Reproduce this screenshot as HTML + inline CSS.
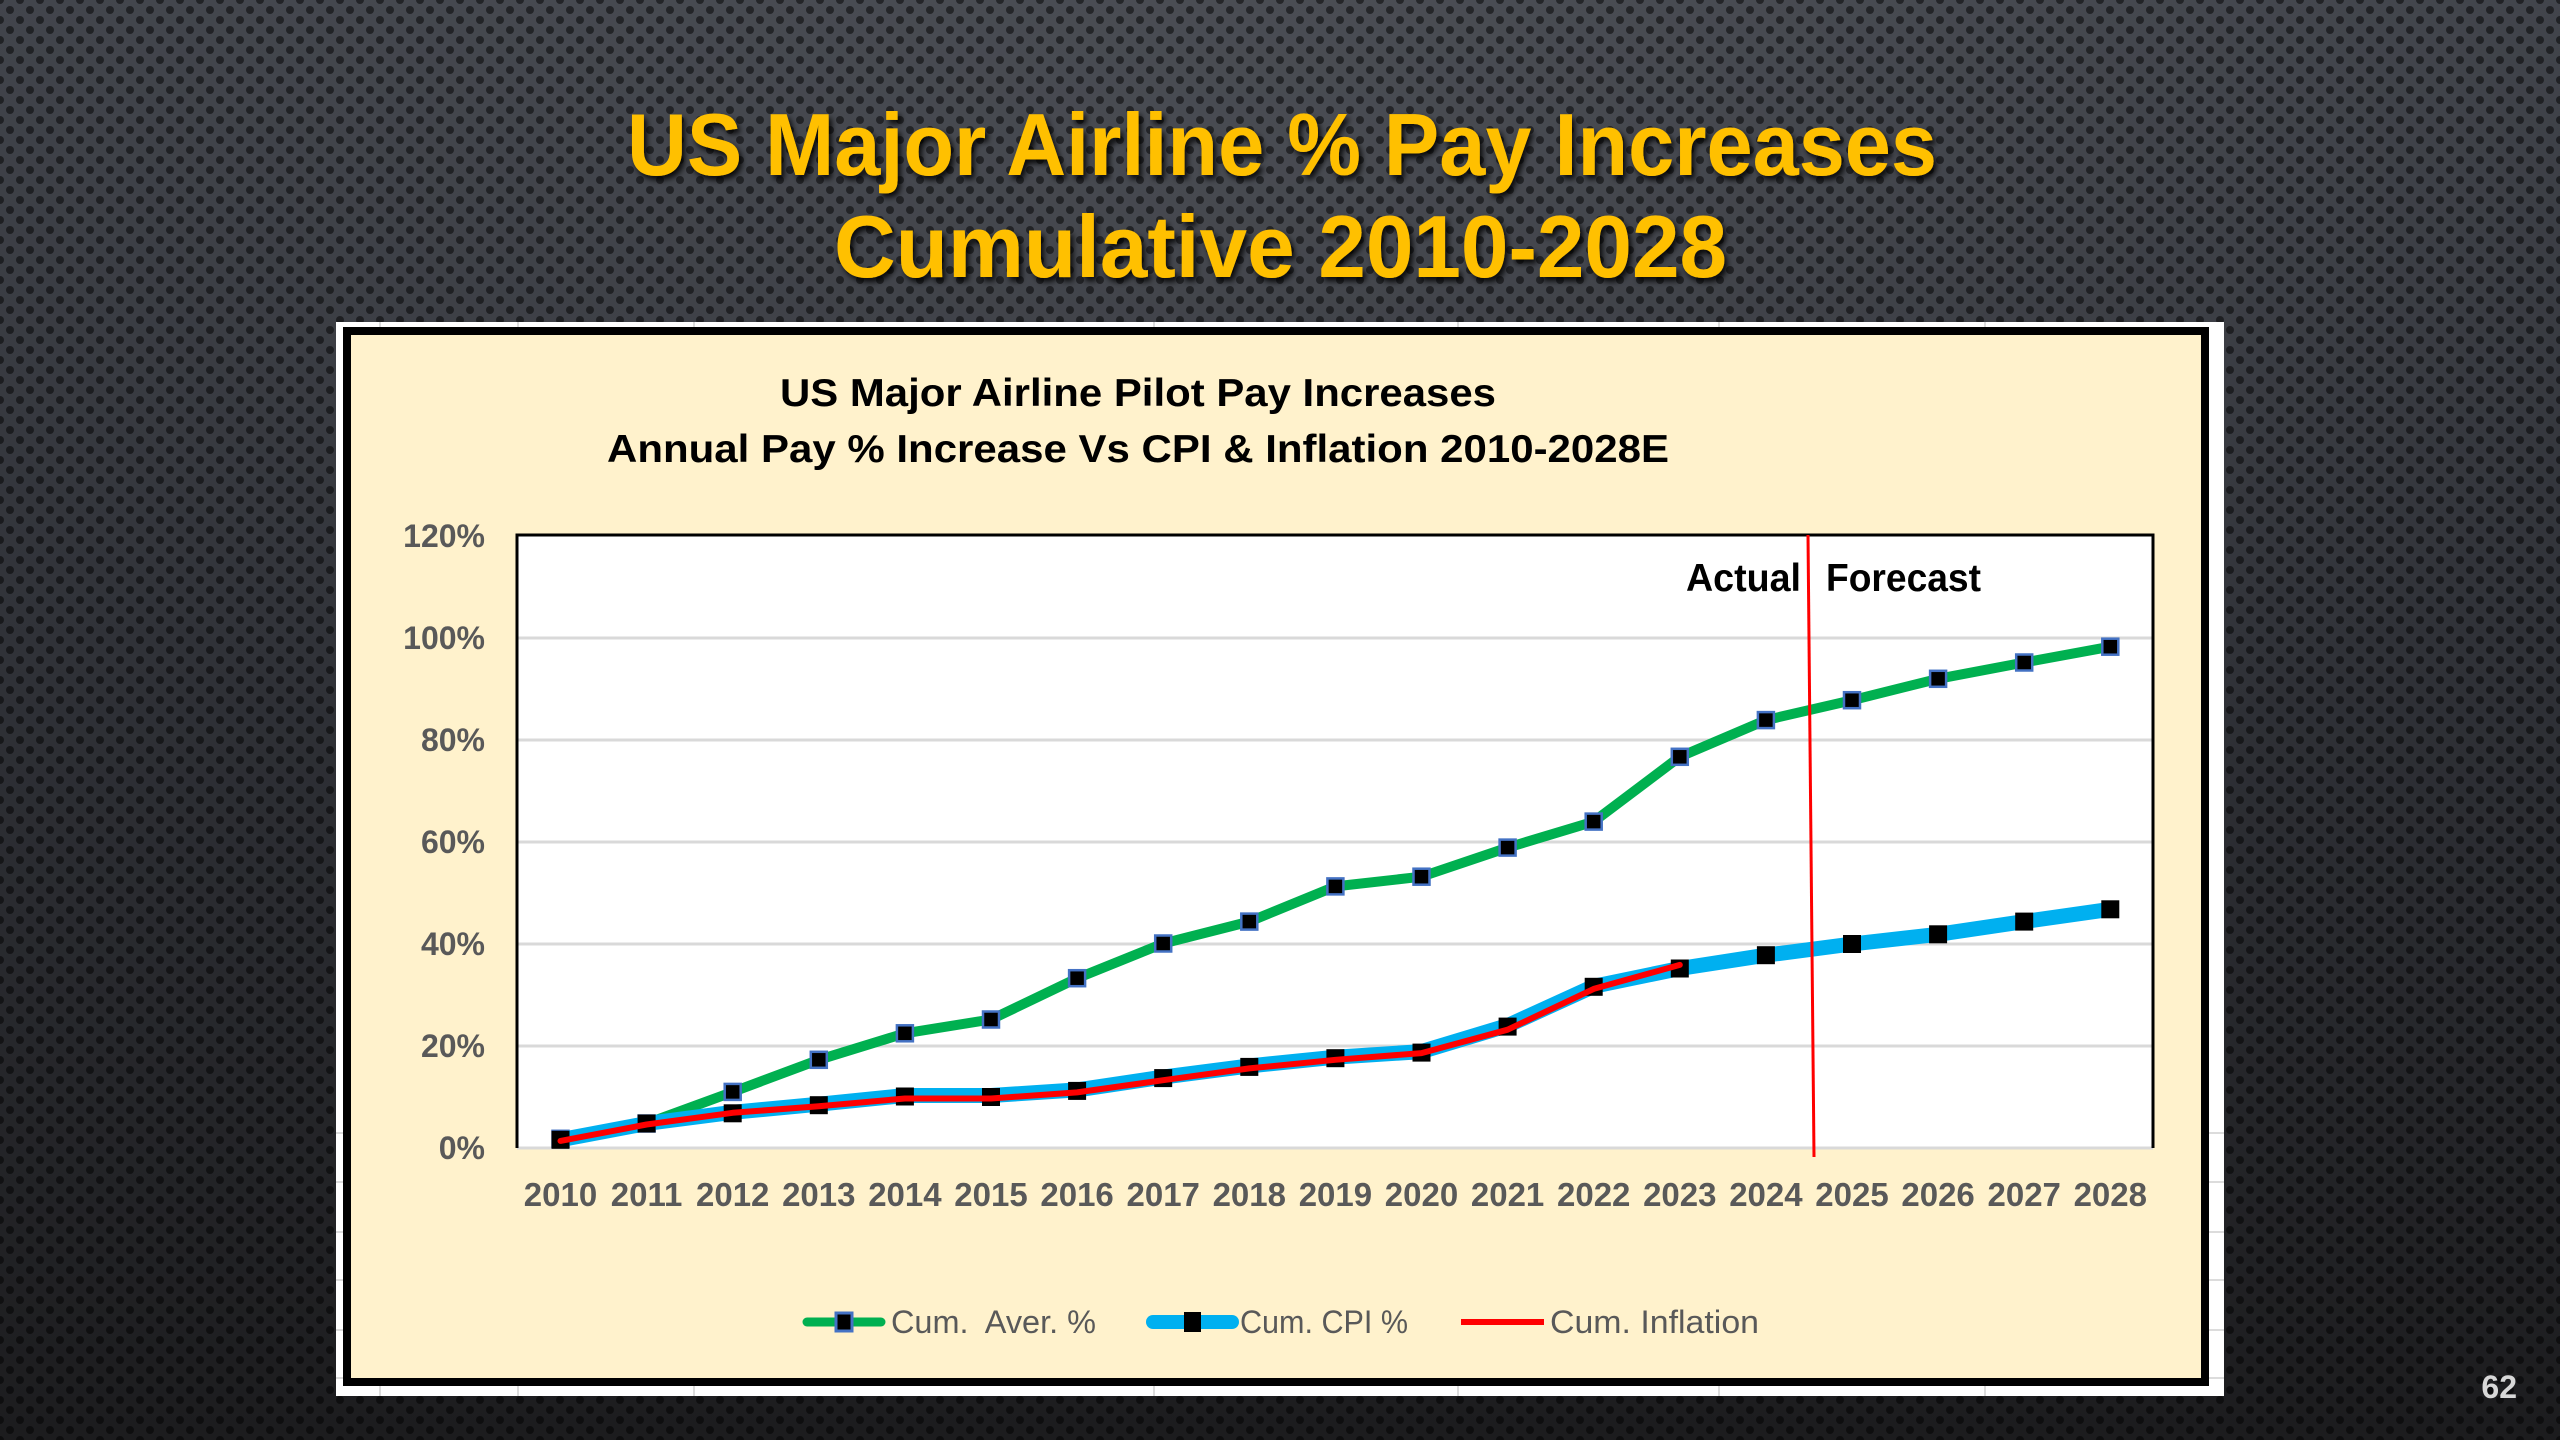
<!DOCTYPE html>
<html>
<head>
<meta charset="utf-8">
<style>
  html, body { margin: 0; padding: 0; width: 2560px; height: 1440px; overflow: hidden; background: #2a2c31; }
  svg { display: block; }
  text { font-family: "Liberation Sans", "DejaVu Sans", sans-serif; }
</style>
</head>
<body>
<svg width="2560" height="1440" viewBox="0 0 2560 1440" xmlns="http://www.w3.org/2000/svg">
  <defs>
    <linearGradient id="bg" x1="0" y1="0" x2="0" y2="1">
      <stop offset="0" stop-color="#41444b"/>
      <stop offset="0.45" stop-color="#303238"/>
      <stop offset="1" stop-color="#1c1c1e"/>
    </linearGradient>
    <radialGradient id="glow" cx="0.5" cy="0.12" r="0.55">
      <stop offset="0" stop-color="#ffffff" stop-opacity="0.06"/>
      <stop offset="1" stop-color="#ffffff" stop-opacity="0"/>
    </radialGradient>
    <pattern id="dots" x="0" y="0" width="20" height="20" patternUnits="userSpaceOnUse">
      <circle cx="10" cy="10" r="4" fill="#000" fill-opacity="0.5"/>
      <circle cx="0" cy="0" r="4" fill="#000" fill-opacity="0.5"/>
      <circle cx="20" cy="0" r="4" fill="#000" fill-opacity="0.5"/>
      <circle cx="0" cy="20" r="4" fill="#000" fill-opacity="0.5"/>
      <circle cx="20" cy="20" r="4" fill="#000" fill-opacity="0.5"/>
    </pattern>
    <filter id="shadow" x="-5%" y="-20%" width="110%" height="150%">
      <feDropShadow dx="3" dy="4" stdDeviation="3" flood-color="#000" flood-opacity="0.85"/>
    </filter>
  </defs>

  <!-- Background -->
  <rect x="0" y="0" width="2560" height="1440" fill="url(#bg)"/>
  <rect x="0" y="0" width="2560" height="1440" fill="url(#glow)"/>
  <rect x="0" y="0" width="2560" height="1440" fill="url(#dots)"/>

  <!-- Slide title -->
  <g filter="url(#shadow)" fill="#FFC000" font-weight="bold" font-size="88">
    <text x="627" y="175" textLength="1310" lengthAdjust="spacingAndGlyphs">US Major Airline % Pay Increases</text>
    <text x="834" y="277" textLength="893" lengthAdjust="spacingAndGlyphs">Cumulative 2010-2028</text>
  </g>

  <!-- White frame -->
  <rect x="336" y="322" width="1888" height="1074" fill="#ffffff"/>
  <g stroke="#dcdcdc" stroke-width="2">
    <line x1="380" y1="322" x2="380" y2="1396"/>
    <line x1="518" y1="322" x2="518" y2="1396"/>
    <line x1="694" y1="322" x2="694" y2="1396"/>
    <line x1="1154" y1="322" x2="1154" y2="1396"/>
    <line x1="1458" y1="322" x2="1458" y2="1396"/>
    <line x1="1719" y1="322" x2="1719" y2="1396"/>
    <line x1="1985" y1="322" x2="1985" y2="1396"/>
    <line x1="336" y1="1133" x2="2224" y2="1133"/>
    <line x1="336" y1="1182" x2="2224" y2="1182"/>
    <line x1="336" y1="1232" x2="2224" y2="1232"/>
    <line x1="336" y1="1280" x2="2224" y2="1280"/>
    <line x1="336" y1="1330" x2="2224" y2="1330"/>
    <line x1="336" y1="1378" x2="2224" y2="1378"/>
  </g>

  <!-- Chart box -->
  <rect x="347" y="331" width="1858" height="1051" fill="#FFF2CC" stroke="#000" stroke-width="8"/>

  <!-- Chart title -->
  <g fill="#000" font-weight="bold" font-size="39">
    <text x="780" y="406" textLength="716" lengthAdjust="spacingAndGlyphs">US Major Airline Pilot Pay Increases</text>
    <text x="607" y="462" textLength="1062" lengthAdjust="spacingAndGlyphs">Annual Pay % Increase Vs CPI &amp; Inflation 2010-2028E</text>
  </g>

  <!-- Plot area -->
  <rect x="517" y="535" width="1636" height="613" fill="#ffffff"/>
  <g stroke="#d9d9d9" stroke-width="3">
    <line x1="517" y1="638" x2="2153" y2="638"/>
    <line x1="517" y1="740" x2="2153" y2="740"/>
    <line x1="517" y1="842" x2="2153" y2="842"/>
    <line x1="517" y1="944" x2="2153" y2="944"/>
    <line x1="517" y1="1046" x2="2153" y2="1046"/>
    <line x1="517" y1="1148" x2="2153" y2="1148"/>
  </g>
  <polyline points="517,1148 517,535 2153,535 2153,1148" fill="none" stroke="#000" stroke-width="3"/>

  <!-- Y axis labels -->
  <g fill="#595959" font-weight="bold" font-size="32" text-anchor="end">
    <text x="485" y="547">120%</text>
    <text x="485" y="649">100%</text>
    <text x="485" y="751">80%</text>
    <text x="485" y="853">60%</text>
    <text x="485" y="955">40%</text>
    <text x="485" y="1057">20%</text>
    <text x="485" y="1159">0%</text>
  </g>

  <!-- X axis labels -->
  <g fill="#595959" font-weight="bold" font-size="33" text-anchor="middle">
    <text x="560.5" y="1206">2010</text>
    <text x="646.6" y="1206">2011</text>
    <text x="732.7" y="1206">2012</text>
    <text x="818.8" y="1206">2013</text>
    <text x="904.9" y="1206">2014</text>
    <text x="991.0" y="1206">2015</text>
    <text x="1077.1" y="1206">2016</text>
    <text x="1163.2" y="1206">2017</text>
    <text x="1249.3" y="1206">2018</text>
    <text x="1335.4" y="1206">2019</text>
    <text x="1421.5" y="1206">2020</text>
    <text x="1507.6" y="1206">2021</text>
    <text x="1593.7" y="1206">2022</text>
    <text x="1679.8" y="1206">2023</text>
    <text x="1765.9" y="1206">2024</text>
    <text x="1852.0" y="1206">2025</text>
    <text x="1938.1" y="1206">2026</text>
    <text x="2024.2" y="1206">2027</text>
    <text x="2110.3" y="1206">2028</text>
  </g>

  <!-- Green series: Cum. Aver. % -->
  <polyline fill="none" stroke="#00B050" stroke-width="10" stroke-linejoin="round"
    points="560.5,1138.8 646.6,1123.5 732.7,1091.9 818.8,1059.8 904.9,1033.3 991.0,1019.5 1077.1,978.2 1163.2,943.5 1249.3,921.6 1335.4,886.4 1421.5,876.7 1507.6,847.6 1593.7,821.6 1679.8,756.8 1765.9,720.1 1852.0,700.2 1938.1,678.8 2024.2,662.5 2110.3,646.7"/>
  <g fill="#000" stroke="#4472C4" stroke-width="2.5">
    <rect x="552.5" y="1130.8" width="16" height="16"/>
    <rect x="638.6" y="1115.5" width="16" height="16"/>
    <rect x="724.7" y="1083.9" width="16" height="16"/>
    <rect x="810.8" y="1051.8" width="16" height="16"/>
    <rect x="896.9" y="1025.3" width="16" height="16"/>
    <rect x="983.0" y="1011.5" width="16" height="16"/>
    <rect x="1069.1" y="970.2" width="16" height="16"/>
    <rect x="1155.2" y="935.5" width="16" height="16"/>
    <rect x="1241.3" y="913.6" width="16" height="16"/>
    <rect x="1327.4" y="878.4" width="16" height="16"/>
    <rect x="1413.5" y="868.7" width="16" height="16"/>
    <rect x="1499.6" y="839.6" width="16" height="16"/>
    <rect x="1585.7" y="813.6" width="16" height="16"/>
    <rect x="1671.8" y="748.8" width="16" height="16"/>
    <rect x="1757.9" y="712.1" width="16" height="16"/>
    <rect x="1844.0" y="692.2" width="16" height="16"/>
    <rect x="1930.1" y="670.8" width="16" height="16"/>
    <rect x="2016.2" y="654.5" width="16" height="16"/>
    <rect x="2102.3" y="638.7" width="16" height="16"/>
  </g>

  <!-- Blue series: Cum. CPI % -->
  <polyline fill="none" stroke="#00B0F0" stroke-width="15" stroke-linejoin="round"
    points="560.5,1139.8 646.6,1123.5 732.7,1112.3 818.8,1104.2 904.9,1095.5 991.0,1095.5 1077.1,1089.9 1163.2,1077.1 1249.3,1065.9 1335.4,1057.2 1421.5,1051.6 1507.6,1025.6 1593.7,986.3 1679.8,968.5 1765.9,955.2 1852.0,944.0 1938.1,934.3 2024.2,921.6 2110.3,909.3"/>
  <g fill="#000">
    <rect x="551.5" y="1130.8" width="18" height="18"/>
    <rect x="637.6" y="1114.5" width="18" height="18"/>
    <rect x="723.7" y="1104.3" width="18" height="18"/>
    <rect x="809.8" y="1096.2" width="18" height="18"/>
    <rect x="895.9" y="1087.5" width="18" height="18"/>
    <rect x="982.0" y="1088.0" width="18" height="18"/>
    <rect x="1068.1" y="1081.9" width="18" height="18"/>
    <rect x="1154.2" y="1069.1" width="18" height="18"/>
    <rect x="1240.3" y="1057.9" width="18" height="18"/>
    <rect x="1326.4" y="1049.2" width="18" height="18"/>
    <rect x="1412.5" y="1043.6" width="18" height="18"/>
    <rect x="1498.6" y="1017.6" width="18" height="18"/>
    <rect x="1584.7" y="977.8" width="18" height="18"/>
    <rect x="1670.8" y="959.5" width="18" height="18"/>
    <rect x="1756.9" y="946.2" width="18" height="18"/>
    <rect x="1843.0" y="935.0" width="18" height="18"/>
    <rect x="1929.1" y="925.3" width="18" height="18"/>
    <rect x="2015.2" y="912.6" width="18" height="18"/>
    <rect x="2101.3" y="900.3" width="18" height="18"/>
  </g>

  <!-- Red series: Cum. Inflation -->
  <polyline fill="none" stroke="#FF0000" stroke-width="6" stroke-linejoin="round" stroke-linecap="round"
    points="560.5,1140.9 646.6,1124.5 732.7,1112.8 818.8,1106.2 904.9,1098.5 991.0,1098.5 1077.1,1092.4 1163.2,1080.2 1249.3,1068.4 1335.4,1059.8 1421.5,1053.1 1507.6,1029.7 1593.7,988.9 1679.8,964.9"/>

  <!-- Actual / Forecast divider -->
  <line x1="1808" y1="535" x2="1814" y2="1157" stroke="#FF0000" stroke-width="3"/>
  <g fill="#000" font-weight="bold" font-size="39">
    <text x="1686" y="591" textLength="115" lengthAdjust="spacingAndGlyphs">Actual</text>
    <text x="1826" y="591" textLength="155" lengthAdjust="spacingAndGlyphs">Forecast</text>
  </g>

  <!-- Legend -->
  <line x1="807" y1="1322" x2="881" y2="1322" stroke="#00B050" stroke-width="9" stroke-linecap="round"/>
  <rect x="836" y="1313" width="16" height="18" fill="#000" stroke="#4472C4" stroke-width="3"/>
  <line x1="1153" y1="1322" x2="1232" y2="1322" stroke="#00B0F0" stroke-width="14" stroke-linecap="round"/>
  <rect x="1184" y="1312" width="17" height="20" fill="#000"/>
  <line x1="1461" y1="1322" x2="1544" y2="1322" stroke="#FF0000" stroke-width="6"/>
  <g fill="#595959" font-size="32">
    <text x="891" y="1333" textLength="205" lengthAdjust="spacingAndGlyphs">Cum.&#160; Aver. %</text>
    <text x="1240" y="1333" textLength="168" lengthAdjust="spacingAndGlyphs">Cum. CPI %</text>
    <text x="1550" y="1333" textLength="209" lengthAdjust="spacingAndGlyphs">Cum. Inflation</text>
  </g>

  <!-- Page number -->
  <text x="2517" y="1398" text-anchor="end" fill="#d8d8d8" font-weight="bold" font-size="32">62</text>
</svg>
</body>
</html>
